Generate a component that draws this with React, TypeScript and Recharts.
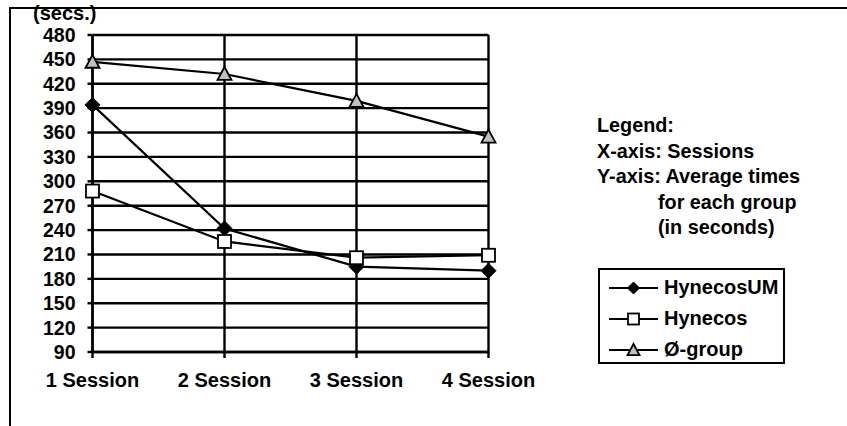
import React from 'react';
import { LineChart, Line, XAxis, YAxis, CartesianGrid, Legend } from 'recharts';

const sessions = ['1 Session', '2 Session', '3 Session', '4 Session'];
const hynecosUM = [394, 242, 195, 190];
const hynecos = [288, 226, 206, 209];
const zeroGroup = [447, 432, 399, 355];
const yTicks = [90, 120, 150, 180, 210, 240, 270, 300, 330, 360, 390, 420, 450, 480];
const notes = ['Legend:', 'X-axis: Sessions', 'Y-axis: Average times', 'for each group', '(in seconds)'];

const FONT = '"Liberation Sans", Arial, sans-serif';

const data = sessions.map((s, i) => ({
  session: s,
  HynecosUM: hynecosUM[i],
  Hynecos: hynecos[i],
  'Ø-group': zeroGroup[i],
}));

type Shape = 'diamond' | 'square' | 'triangle';

function marker(shape: Shape, cx: number, cy: number, s: number) {
  if (shape === 'diamond') {
    return (
      <polygon
        points={`${cx},${cy - s} ${cx + s},${cy} ${cx},${cy + s} ${cx - s},${cy}`}
        fill="#000"
        stroke="#000"
      />
    );
  }
  if (shape === 'square') {
    return (
      <rect x={cx - s} y={cy - s} width={s * 2} height={s * 2} fill="#fff" stroke="#000" strokeWidth={1.8} />
    );
  }
  return (
    <polygon
      points={`${cx},${cy - s} ${cx + s},${cy + s * 0.85} ${cx - s},${cy + s * 0.85}`}
      fill="#c0c0c0"
      stroke="#000"
      strokeWidth={1.8}
    />
  );
}

const series: { key: string; shape: Shape; size: number }[] = [
  { key: 'HynecosUM', shape: 'diamond', size: 7.5 },
  { key: 'Hynecos', shape: 'square', size: 6.5 },
  { key: 'Ø-group', shape: 'triangle', size: 7 },
];

function LegendBox() {
  return (
    <div
      style={{
        border: '2px solid #000',
        width: 183,
        height: 92,
        boxSizing: 'content-box',
        fontFamily: FONT,
        fontWeight: 'bold',
        fontSize: 20,
      }}
    >
      {series.map((s, i) => (
        <div key={s.key} style={{ display: 'flex', alignItems: 'center', height: 31, marginTop: i === 0 ? 2 : 0 }}>
          <svg width={62} height={20} style={{ marginLeft: 2 }}>
            <line x1={7} y1={10} x2={56} y2={10} stroke="#000" strokeWidth={2.2} />
            {marker(s.shape, 31.5, 10, s.shape === 'square' ? 5.5 : 6)}
          </svg>
          <span>{s.key}</span>
        </div>
      ))}
    </div>
  );
}

export default function App() {
  return (
    <div style={{ position: 'absolute', left: 0, top: 0, width: 847, height: 426, background: '#fff' }}>
      <div
        style={{
          position: 'absolute',
          left: 9,
          top: 7,
          width: 838,
          height: 419,
          borderTop: '2px solid #000',
          borderLeft: '2px solid #000',
        }}
      />
      <div
        style={{
          position: 'absolute',
          left: 33,
          top: 1.5,
          fontFamily: FONT,
          fontWeight: 'bold',
          fontSize: 20,
          lineHeight: '22px',
        }}
      >
        (secs.)
      </div>
      <div
        style={{
          position: 'absolute',
          left: 597,
          top: 113,
          fontFamily: FONT,
          fontWeight: 'bold',
          fontSize: 19.8,
          lineHeight: '25.5px',
          whiteSpace: 'nowrap',
        }}
      >
        {notes.map((n, i) => (
          <div key={n} style={{ paddingLeft: i >= 3 ? 61 : 0 }}>
            {n}
          </div>
        ))}
      </div>
      <LineChart
        width={847}
        height={426}
        data={data}
        margin={{ top: 35, right: 358.5, bottom: 34, left: 12.5 }}
        style={{ position: 'absolute', left: 0, top: 0 }}
      >
        <CartesianGrid stroke="#000" strokeWidth={2.4} />
        <XAxis
          dataKey="session"
          height={40}
          stroke="#000"
          strokeWidth={2.4}
          tickSize={6}
          tickMargin={15}
          tick={{ fill: '#000', fontFamily: FONT, fontWeight: 'bold', fontSize: 20 }}
          interval={0}
        />
        <YAxis
          width={80}
          domain={[90, 480]}
          ticks={yTicks}
          interval={0}
          stroke="#000"
          strokeWidth={2.4}
          tickSize={5}
          tickMargin={12}
          tick={{ fill: '#000', fontFamily: FONT, fontWeight: 'bold', fontSize: 19.5 }}
        />
        <Legend
          layout="vertical"
          align="center"
          verticalAlign="middle"
          content={() => <LegendBox />}
          wrapperStyle={{ position: 'absolute', left: 598, top: 268, width: 'auto' }}
        />
        {series.map((s) => (
          <Line
            key={s.key}
            dataKey={s.key}
            stroke="#000"
            strokeWidth={2.2}
            isAnimationActive={false}
            dot={(p: any) => <g key={`${s.key}-${p.index}`}>{marker(s.shape, p.cx, p.cy, s.size)}</g>}
            activeDot={false}
          />
        ))}
      </LineChart>
    </div>
  );
}
